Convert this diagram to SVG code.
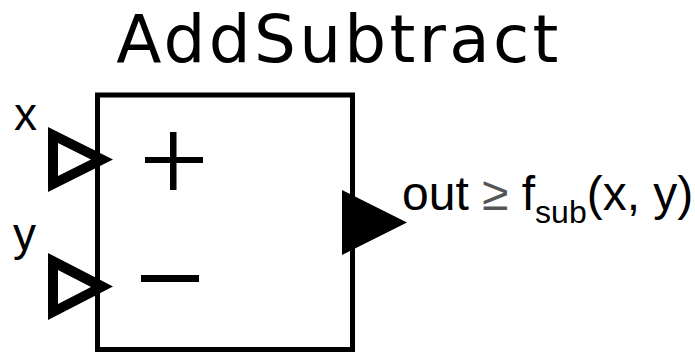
<svg xmlns="http://www.w3.org/2000/svg" width="695" height="354" viewBox="0 0 695 354">
<style>
.lbl{font-family:"Liberation Sans",Arial,sans-serif;fill:#000}
.title{font-family:"DejaVu Sans","Open Sans",sans-serif;font-size:66px;letter-spacing:3.3px;fill:#000}
.port{fill:#000;fill-rule:evenodd}
</style>
<rect width="695" height="354" fill="#fff"/>
<g id="AddSubtract">
  <text class="title" x="339" y="62" text-anchor="middle">AddSubtract</text>
  <rect x="97.5" y="95" width="255" height="254.5" fill="none" stroke="#000" stroke-width="5"/>
  <rect x="145" y="157" width="58" height="6" fill="#000"/>
  <rect x="170" y="132" width="6.5" height="58" fill="#000"/>
  <rect x="141" y="275" width="58" height="7" fill="#000"/>
</g>
<g id="port-x">
  <path class="port" d="M48,127 L48,192 L113,159.5 Z M58,143 L58,176 L91,159.5 Z"/>
  <text class="lbl" x="14" y="130" font-size="46">x</text>
</g>
<g id="port-y">
  <path class="port" d="M48,253 L48,320 L113,286.5 Z M58,270 L58,304 L91,287 Z"/>
  <text class="lbl" x="13" y="250" font-size="46">y</text>
</g>
<g id="port-out">
  <path d="M342,190 L342,255 L407,222.5 Z" fill="#000"/>
  <text class="lbl" x="402" y="210" font-size="48">out <tspan fill="#555">≥</tspan> f<tspan font-size="32" dy="13">sub</tspan><tspan dy="-13">(x, y)</tspan></text>
</g>
<g id="connectors"></g>
</svg>
